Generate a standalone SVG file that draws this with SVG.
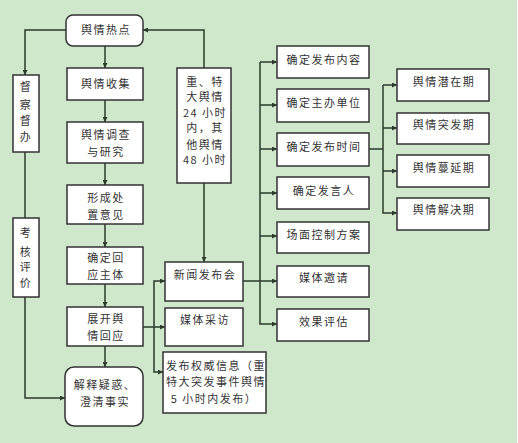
<svg xmlns="http://www.w3.org/2000/svg" width="518" height="443" viewBox="0 0 518 443">
<style>
.bx{fill:#fff;stroke:#333;stroke-width:1.5}
.t{font-family:"Noto Sans CJK SC","Noto Sans",sans-serif;font-size:11px;fill:#333;text-anchor:middle;letter-spacing:1.5px}
.c{fill:none;stroke:#2b3a2b;stroke-width:1.5}
</style>
<defs>
<marker id="a" viewBox="0 0 6 6" refX="6" refY="3" markerWidth="5" markerHeight="5" orient="auto" markerUnits="userSpaceOnUse"><path d="M0,0L6,3L0,6z" fill="#2b3a2b"/></marker>
</defs>
<rect x="0" y="0" width="517" height="443" fill="#cfe7cb"/>
<g id="connectors">
<path class="c" d="M66,30H25V75" marker-end="url(#a)"/>
<path class="c" d="M25,152V218"/>
<path class="c" d="M25,297V398H65" marker-end="url(#a)"/>
<path class="c" d="M105,46V68" marker-end="url(#a)"/>
<path class="c" d="M105,100V122" marker-end="url(#a)"/>
<path class="c" d="M105,163V185" marker-end="url(#a)"/>
<path class="c" d="M105,224V247" marker-end="url(#a)"/>
<path class="c" d="M105,284V307" marker-end="url(#a)"/>
<path class="c" d="M105,346V367" marker-end="url(#a)"/>
<path class="c" d="M204,68V30H143" marker-end="url(#a)"/>
<path class="c" d="M204,183V262" marker-end="url(#a)"/>
<path class="c" d="M143,327H165" marker-end="url(#a)"/>
<path class="c" d="M154,327V281H165" marker-end="url(#a)"/>
<path class="c" d="M154,327V372H163" marker-end="url(#a)"/>
<path class="c" d="M243,281H260"/>
<path class="c" d="M260,324V62"/>
<path class="c" d="M260,62H277" marker-end="url(#a)"/>
<path class="c" d="M260,105H277" marker-end="url(#a)"/>
<path class="c" d="M260,149H277" marker-end="url(#a)"/>
<path class="c" d="M260,193H277" marker-end="url(#a)"/>
<path class="c" d="M260,236H277" marker-end="url(#a)"/>
<path class="c" d="M260,281H277" marker-end="url(#a)"/>
<path class="c" d="M259.25,324H277" marker-end="url(#a)"/>
<path class="c" d="M369,149H383"/>
<path class="c" d="M383,85V213"/>
<path class="c" d="M383,85H397" marker-end="url(#a)"/>
<path class="c" d="M383,128H397" marker-end="url(#a)"/>
<path class="c" d="M383,171H397" marker-end="url(#a)"/>
<path class="c" d="M382.25,213H397" marker-end="url(#a)"/>
</g>
<g id="n-hot"><rect class="bx" x="66" y="15" width="77" height="31" rx="7"/><text class="t" x="106" y="34">舆情热点</text></g>
<g id="n-collect"><rect class="bx" x="67" y="68" width="76" height="32"/><text class="t" x="106" y="88">舆情收集</text></g>
<g id="n-survey"><rect class="bx" x="67" y="122" width="76" height="41"/><text class="t" x="106" y="139">舆情调查</text><text class="t" x="106" y="156">与研究</text></g>
<g id="n-opinion"><rect class="bx" x="67" y="185" width="76" height="39"/><text class="t" x="106" y="202">形成处</text><text class="t" x="106" y="219">置意见</text></g>
<g id="n-subject"><rect class="bx" x="67" y="247" width="76" height="37"/><text class="t" x="106" y="262">确定回</text><text class="t" x="106" y="279">应主体</text></g>
<g id="n-respond"><rect class="bx" x="67" y="307" width="76" height="39"/><text class="t" x="106" y="323">展开舆</text><text class="t" x="106" y="340">情回应</text></g>
<g id="n-explain"><rect class="bx" x="65" y="367" width="78" height="59" rx="9"/><text class="t" x="105" y="389">解释疑惑、</text><text class="t" x="105" y="406">澄清事实</text></g>
<g id="n-supervise"><rect class="bx" x="13" y="75" width="26" height="77"/><text class="t" x="26" y="91">督</text><text class="t" x="26" y="109">察</text><text class="t" x="26" y="125">督</text><text class="t" x="26" y="141">办</text></g>
<g id="n-assess"><rect class="bx" x="13" y="218" width="26" height="79"/><text class="t" x="26" y="237">考</text><text class="t" x="26" y="256">核</text><text class="t" x="26" y="271">评</text><text class="t" x="26" y="287">价</text></g>
<g id="n-time"><rect class="bx" x="177" y="68" width="54" height="115"/>
<text class="t" x="205" y="86">重、特</text><text class="t" x="205" y="101">大舆情</text><text class="t" x="205" y="117">24 小时</text><text class="t" x="205" y="132">内，其</text><text class="t" x="205" y="149">他舆情</text><text class="t" x="205" y="164">48 小时</text></g>
<g id="n-press"><rect class="bx" x="165" y="262" width="78" height="39"/><text class="t" x="205" y="279">新闻发布会</text></g>
<g id="n-media"><rect class="bx" x="165" y="308" width="78" height="38"/><text class="t" x="205" y="324">媒体采访</text></g>
<g id="n-release"><rect class="bx" x="163" y="352" width="103" height="61"/><text class="t" x="216" y="370">发布权威信息（重</text><text class="t" x="216" y="386">特大突发事件舆情</text><text class="t" x="214" y="403">5 小时内发布）</text></g>
<g id="n-content"><rect class="bx" x="277" y="46" width="92" height="32"/><text class="t" x="324" y="64">确定发布内容</text></g>
<g id="n-host"><rect class="bx" x="277" y="89" width="92" height="33"/><text class="t" x="324" y="107">确定主办单位</text></g>
<g id="n-when"><rect class="bx" x="277" y="133" width="92" height="33"/><text class="t" x="324" y="151">确定发布时间</text></g>
<g id="n-speaker"><rect class="bx" x="277" y="177" width="92" height="32"/><text class="t" x="324" y="195">确定发言人</text></g>
<g id="n-scene"><rect class="bx" x="277" y="222" width="92" height="31"/><text class="t" x="324" y="239">场面控制方案</text></g>
<g id="n-invite"><rect class="bx" x="277" y="266" width="92" height="31"/><text class="t" x="324" y="282">媒体邀请</text></g>
<g id="n-eval"><rect class="bx" x="277" y="309" width="92" height="32"/><text class="t" x="324" y="326">效果评估</text></g>
<g id="n-latent"><rect class="bx" x="397" y="69" width="92" height="32"/><text class="t" x="444" y="86">舆情潜在期</text></g>
<g id="n-burst"><rect class="bx" x="397" y="113" width="92" height="31"/><text class="t" x="444" y="129">舆情突发期</text></g>
<g id="n-spread"><rect class="bx" x="397" y="155" width="92" height="32"/><text class="t" x="444" y="172">舆情蔓延期</text></g>
<g id="n-solve"><rect class="bx" x="397" y="198" width="92" height="32"/><text class="t" x="444" y="214">舆情解决期</text></g>
</svg>
